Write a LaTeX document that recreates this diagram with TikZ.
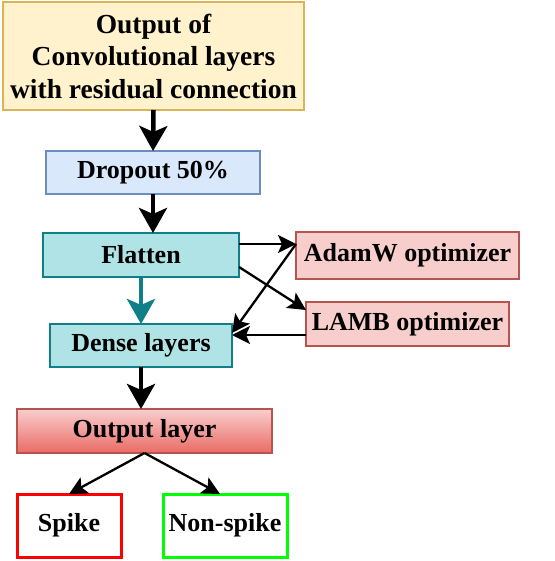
\documentclass[tikz,border=0pt]{standalone}
\usepackage{fontspec}
\setmainfont{Liberation Serif}
\usetikzlibrary{arrows.meta}

\definecolor{inyellow}{RGB}{255,242,204}
\definecolor{bdyellow}{RGB}{214,182,86}
\definecolor{inblue}{RGB}{218,232,252}
\definecolor{bdblue}{RGB}{108,142,191}
\definecolor{inteal}{RGB}{176,227,230}
\definecolor{bdteal}{RGB}{16,128,136}
\definecolor{inred}{RGB}{248,206,204}
\definecolor{deepred}{RGB}{234,107,102}
\definecolor{bdred}{RGB}{184,84,80}
\definecolor{spikered}{RGB}{255,0,0}
\definecolor{spikegreen}{RGB}{0,255,0}

\begin{document}
\begin{tikzpicture}[x=1pt, y=-1pt,
    layerbox/.style={rectangle, draw, line width=1.5pt, outer sep=0pt, inner sep=2pt,
        font=\fontsize{26}{32}\selectfont\bfseries, align=center},
    bigarrow/.style={line width=4.5pt, -{Stealth[length=25pt,width=28pt,inset=6pt]}},
    thinarrow/.style={line width=2.3pt, -{Stealth[length=18pt,width=18pt,inset=4pt]}}]
    \useasboundingbox (0,0) rectangle (554,561);

    % Main column
    \node[layerbox, fill=inyellow, draw=bdyellow, minimum width=301pt, minimum height=108pt,
        font=\fontsize{27.5}{32.5}\selectfont\bfseries]
        (conv) at (153.5,56) {Output of\\Convolutional layers\\with residual connection};
    \node[layerbox, fill=inblue, draw=bdblue, minimum width=214pt, minimum height=43pt]
        (drop) at (153,172.5) {Dropout 50\%};
    \node[layerbox, fill=inteal, draw=bdteal, minimum width=196pt, minimum height=44pt]
        (flat) at (141,255) {Flatten};
    \node[layerbox, fill=inteal, draw=bdteal, minimum width=182pt, minimum height=43pt]
        (dense) at (141,345.5) {Dense layers};
    \node[layerbox, top color=inred, bottom color=deepred, draw=bdred, minimum width=255pt, minimum height=44pt]
        (outl) at (144.5,431) {Output layer};

    % Optimizers
    \node[layerbox, fill=inred, draw=bdred, minimum width=223pt, minimum height=47pt]
        (adamw) at (407.5,255.5) {AdamW optimizer};
    \node[layerbox, fill=inred, draw=bdred, minimum width=203pt, minimum height=44pt]
        (lamb) at (407.5,324) {LAMB optimizer};

    % Classes
    \node[layerbox, fill=white, draw=spikered, line width=3pt, minimum width=104pt, minimum height=63pt]
        (spike) at (69,525.5) {Spike};
    \node[layerbox, fill=white, draw=spikegreen, line width=3pt, minimum width=124pt, minimum height=63pt]
        (nonspike) at (225,525.5) {Non-spike};

    \draw[bigarrow] (conv.south) -- (drop.north);
    \draw[bigarrow] (drop.south) -- (drop.south |- flat.north);
    \draw[bigarrow, draw=bdteal] (flat.south) -- (dense.north);
    \draw[bigarrow] (dense.south) -- (dense.south |- outl.north);

    \draw[thinarrow] ([yshift=-11pt]flat.north east) -- ([yshift=-12pt]adamw.north west);
    \draw[thinarrow] ([yshift=10pt]flat.south east) -- ([yshift=-8pt]lamb.north west);
    \draw[thinarrow] ([yshift=-12pt]adamw.north west) -- ([yshift=12.5pt]dense.east);
    \draw[thinarrow] ([yshift=-11pt]lamb.west) -- ([yshift=10.5pt]dense.east);

    \draw[thinarrow] (outl.south) -- (spike.north);
    \draw[thinarrow] (outl.south) -- ([xshift=-5pt]nonspike.north);
\end{tikzpicture}
\end{document}
